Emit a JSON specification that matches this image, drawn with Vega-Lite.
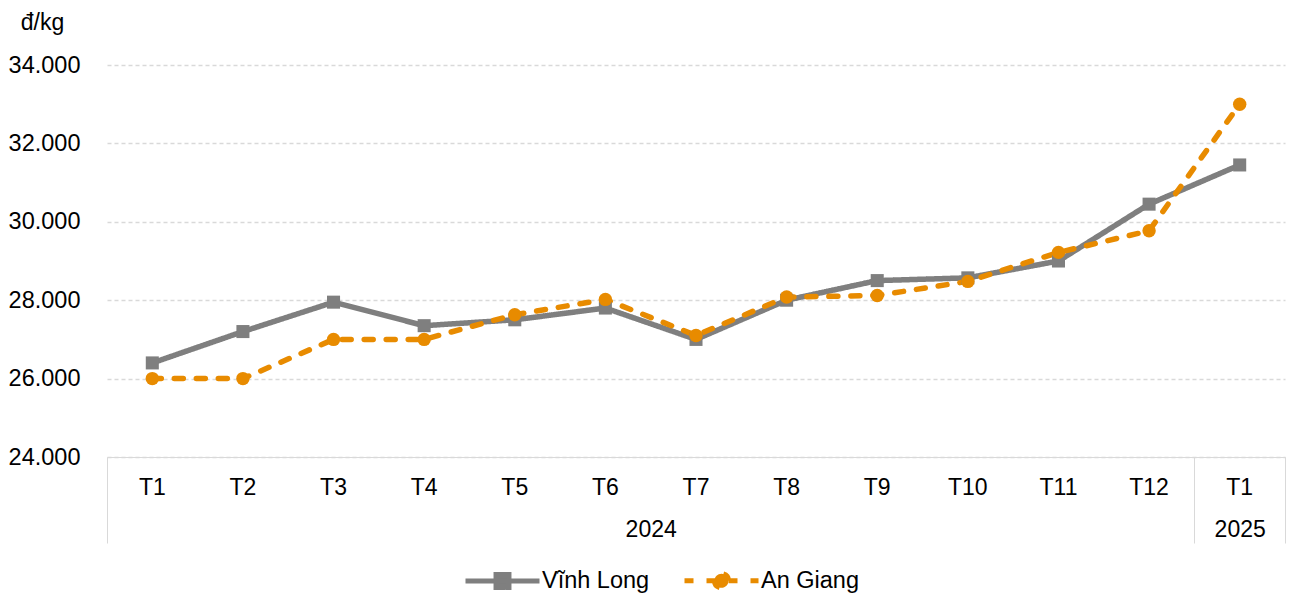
{
  "$schema": "https://vega.github.io/schema/vega-lite/v6.json",
  "width": 1178,
  "height": 392,
  "autosize": "none",
  "padding": {"left": 107, "top": 65, "right": 8, "bottom": 138},
  "background": "white",
  "config": {
    "view": {"stroke": null},
    "font": "Liberation Sans",
    "axis": {"labelFont": "Liberation Sans", "labelFontSize": 23, "labelColor": "#000000", "titleFont": "Liberation Sans", "titleFontWeight": "normal", "titleColor": "#000000"}
  },
  "data": {
    "values": [
      {"series": "Vĩnh Long", "period": "T1 2024", "price": 26400},
      {"series": "Vĩnh Long", "period": "T2 2024", "price": 27200},
      {"series": "Vĩnh Long", "period": "T3 2024", "price": 27950},
      {"series": "Vĩnh Long", "period": "T4 2024", "price": 27350},
      {"series": "Vĩnh Long", "period": "T5 2024", "price": 27500},
      {"series": "Vĩnh Long", "period": "T6 2024", "price": 27800},
      {"series": "Vĩnh Long", "period": "T7 2024", "price": 27000},
      {"series": "Vĩnh Long", "period": "T8 2024", "price": 28000},
      {"series": "Vĩnh Long", "period": "T9 2024", "price": 28500},
      {"series": "Vĩnh Long", "period": "T10 2024", "price": 28570},
      {"series": "Vĩnh Long", "period": "T11 2024", "price": 29000},
      {"series": "Vĩnh Long", "period": "T12 2024", "price": 30450},
      {"series": "Vĩnh Long", "period": "T1 2025", "price": 31450},
      {"series": "An Giang", "period": "T1 2024", "price": 26000},
      {"series": "An Giang", "period": "T2 2024", "price": 26000},
      {"series": "An Giang", "period": "T3 2024", "price": 27000},
      {"series": "An Giang", "period": "T4 2024", "price": 27000},
      {"series": "An Giang", "period": "T5 2024", "price": 27630},
      {"series": "An Giang", "period": "T6 2024", "price": 28020},
      {"series": "An Giang", "period": "T7 2024", "price": 27100},
      {"series": "An Giang", "period": "T8 2024", "price": 28080},
      {"series": "An Giang", "period": "T9 2024", "price": 28120},
      {"series": "An Giang", "period": "T10 2024", "price": 28480},
      {"series": "An Giang", "period": "T11 2024", "price": 29220},
      {"series": "An Giang", "period": "T12 2024", "price": 29770},
      {"series": "An Giang", "period": "T1 2025", "price": 33000}
    ]
  },
  "resolve": {"axis": {"x": "independent"}},
  "layer": [
    {
      "mark": {"type": "line", "strokeWidth": 5.5, "strokeCap": "round", "strokeJoin": "round"},
      "encoding": {
        "x": {
          "field": "period", "type": "nominal", "sort": null,
          "scale": {"type": "band", "paddingInner": 0, "paddingOuter": 0},
          "axis": {
            "title": null, "orient": "bottom", "domain": true, "domainColor": "#d9d9d9", "domainWidth": 1,
            "ticks": false, "grid": false, "labelAngle": 0, "labelBaseline": "middle", "labelPadding": 30,
            "labelExpr": "split(datum.value, ' ')[0]"
          }
        },
        "y": {
          "field": "price", "type": "quantitative",
          "scale": {"domain": [24000, 34000], "nice": false, "zero": false},
          "axis": {
            "values": [24000, 26000, 28000, 30000, 32000, 34000],
            "domain": false, "ticks": false, "grid": true, "gridColor": "#d9d9d9", "gridDash": [4, 3], "gridWidth": 1.3,
            "labelPadding": 27, "labelFontSize": 23.5, "labelExpr": "replace(format(datum.value, ',d'), ',', '.')",
            "title": "đ/kg", "titleAngle": 0, "titleAlign": "center", "titleBaseline": "middle",
            "titleX": -65, "titleY": -43, "titleFontSize": 23
          }
        },
        "color": {
          "field": "series", "type": "nominal",
          "scale": {"domain": ["Vĩnh Long", "An Giang"], "range": ["#7f7f7f", "#e88b00"]},
          "legend": {
            "orient": "none", "legendX": 356, "legendY": 476, "direction": "horizontal", "title": null,
            "symbolType": "M-1,0H1M-0.175,-0.175H0.175V0.175H-0.175Z", "symbolSize": 5476, "symbolStrokeWidth": 5,
            "labelFont": "Liberation Sans", "labelFontSize": 23.5, "labelColor": "#000000", "labelOffset": 0, "columnPadding": 24,
            "encoding": {
              "symbols": {
                "shape": {"condition": {"test": "datum.value == 'Vĩnh Long'", "value": "M-1,0H1M-0.175,-0.175H0.175V0.175H-0.175Z"}, "value": "M-1,0H1M-0.19,0A0.19,0.19,0,1,0,0.19,0A0.19,0.19,0,1,0,-0.19,0Z"},
                "fill": {"condition": {"test": "datum.value == 'Vĩnh Long'", "value": "#7f7f7f"}, "value": "#e88b00"}
              }
            }
          }
        },
        "strokeDash": {
          "field": "series", "type": "nominal",
          "scale": {"domain": ["Vĩnh Long", "An Giang"], "range": [[1, 0], [9, 13]]},
          "legend": {
            "orient": "none", "legendX": 356, "legendY": 476, "direction": "horizontal", "title": null,
            "symbolType": "M-1,0H1M-0.175,-0.175H0.175V0.175H-0.175Z", "symbolSize": 5476, "symbolStrokeWidth": 5,
            "labelFont": "Liberation Sans", "labelFontSize": 23.5, "labelColor": "#000000", "labelOffset": 0, "columnPadding": 24
          }
        }
      }
    },
    {
      "transform": [{"filter": "datum.series == 'Vĩnh Long'"}],
      "mark": {"type": "point", "filled": true, "size": 170, "opacity": 1, "shape": "square"},
      "encoding": {
        "x": {
          "field": "period", "type": "nominal", "sort": null,
          "scale": {"type": "band", "paddingInner": 0, "paddingOuter": 0},
          "axis": {
            "title": null, "orient": "bottom", "domain": false, "grid": false, "labelAngle": 0,
            "ticks": true, "tickBand": "extent", "tickSize": 86, "tickColor": "#d9d9d9", "tickWidth": 1,
            "tickOpacity": {"condition": {"test": "datum.value == 'T12 2024' || datum.value == 'T1 2025' || !datum.value", "value": 1}, "value": 0},
            "labelBaseline": "middle", "labelPadding": -14,
            "labelOffset": {"condition": {"test": "datum.value == 'T7 2024'", "value": -45.3}, "value": 0},
            "labelExpr": "datum.value == 'T7 2024' ? '2024' : datum.value == 'T1 2025' ? '2025' : ''"
          }
        },
        "y": {"field": "price", "type": "quantitative", "scale": {"domain": [24000, 34000], "nice": false, "zero": false}},
        "color": {"field": "series", "type": "nominal", "scale": {"domain": ["Vĩnh Long", "An Giang"], "range": ["#7f7f7f", "#e88b00"]}, "legend": null}
      }
    },
    {
      "transform": [{"filter": "datum.series == 'An Giang'"}],
      "mark": {"type": "point", "filled": true, "size": 180, "opacity": 1, "shape": "circle"},
      "encoding": {
        "x": {
          "field": "period", "type": "nominal", "sort": null,
          "scale": {"type": "band", "paddingInner": 0, "paddingOuter": 0},
          "axis": null
        },
        "y": {"field": "price", "type": "quantitative", "scale": {"domain": [24000, 34000], "nice": false, "zero": false}},
        "color": {"field": "series", "type": "nominal", "scale": {"domain": ["Vĩnh Long", "An Giang"], "range": ["#7f7f7f", "#e88b00"]}, "legend": null}
      }
    }
  ]
}
